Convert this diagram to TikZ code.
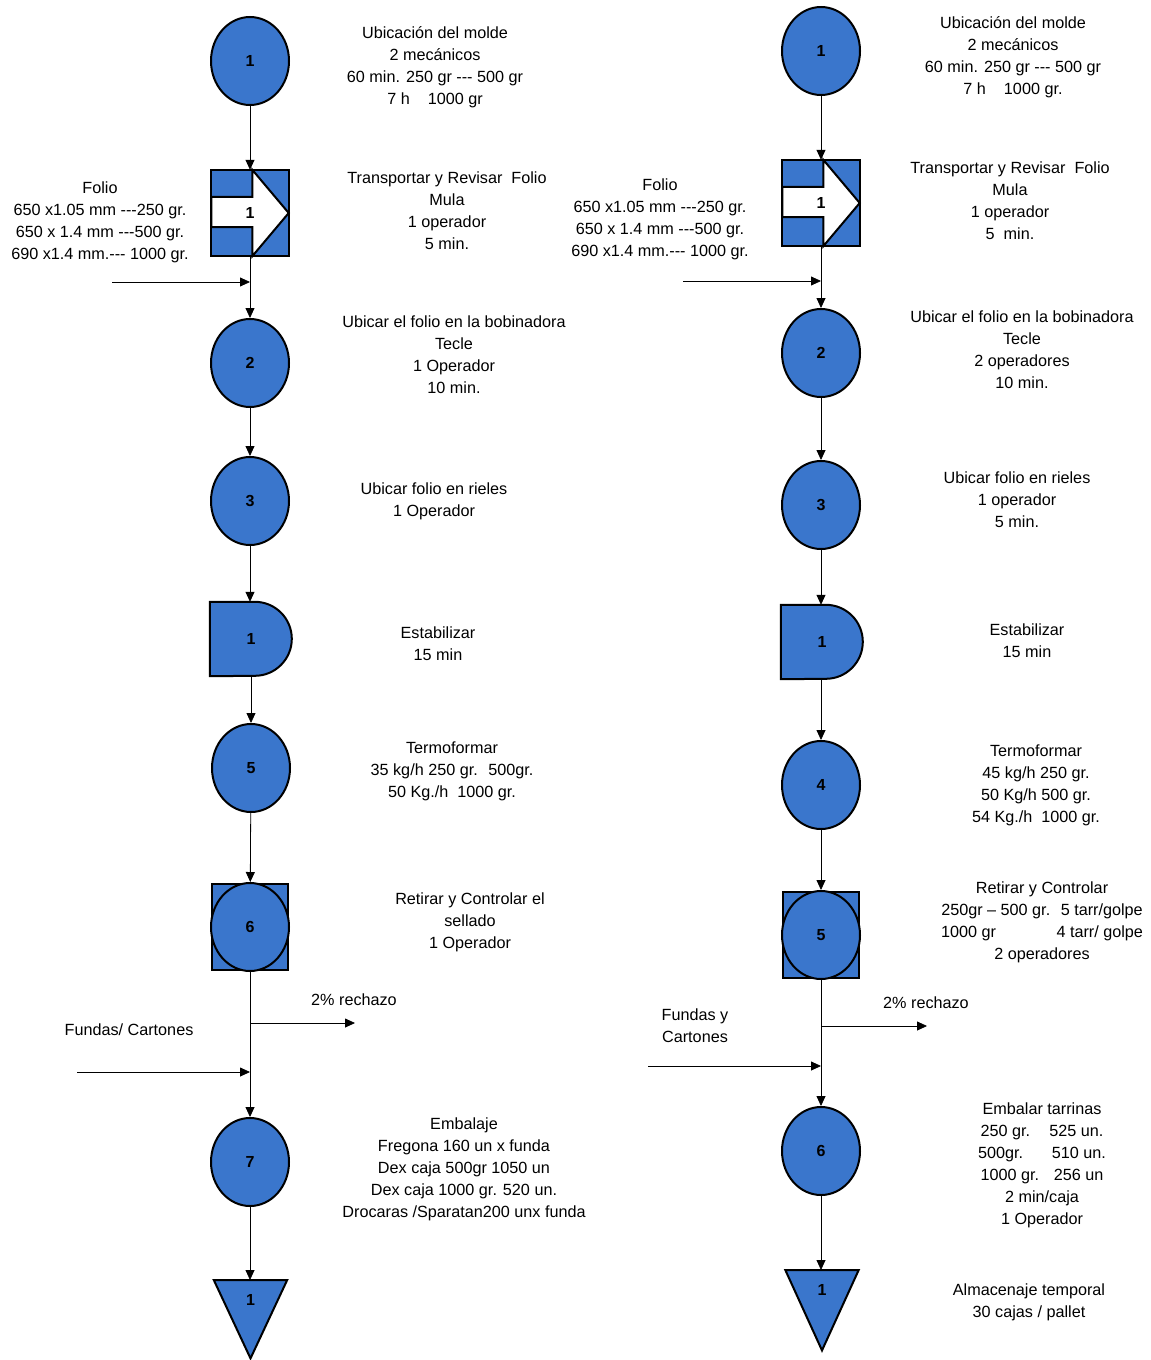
\documentclass[tikz,border=0pt]{standalone}
\usepackage{fontspec}
\setmainfont{Liberation Sans}[Ligatures=TeXOff]
\usetikzlibrary{arrows.meta,shapes.geometric,backgrounds}
\definecolor{opblue}{HTML}{3A76CC}

\begin{document}
\begin{tikzpicture}[x=1pt, y=1pt,
    font=\fontsize{16.2}{22}\selectfont,
    flow/.style={-{Triangle[length=10pt,width=9pt]}, line width=0.8pt},
    opline/.style={draw, line width=2pt},
    op/.style={opline, fill=opblue, ellipse, minimum width=78pt, minimum height=88pt, inner sep=0pt, font=\fontsize{16}{18}\selectfont\bfseries},
    symbox/.style={inner sep=0pt, minimum width=#1, font=\fontsize{16}{18}\selectfont\bfseries},
    note/.style={align=center}
]
    \useasboundingbox (0,0) rectangle (1151,-1360);

    % left column
    \node[op] (c1) at (250,-61) {1};
    \node[symbox=77pt, minimum height=86pt] (tr1) at (250,-213) {1};
    \node[op] (c2) at (250,-363) {2};
    \node[op] (c3) at (250,-501) {3};
    \node[symbox=82pt, minimum height=74pt] (dl1) at (251,-639) {1};
    \node[op] (c5) at (251,-768) {5};
    \node[opline, fill=opblue, minimum width=76pt, minimum height=86pt, inner sep=0pt] (sq6) at (250,-927) {};
    \node[op] (c6) at (250,-927) {6};
    \node[op] (c7) at (250,-1162) {7};
    \node[symbox=73pt, minimum height=78pt, anchor=north] (st1) at (250.5,-1280) {};
    \node[symbox=10pt] (st1n) at ([yshift=-20pt]st1.north) {1};

    % right column
    \node[op] (rc1) at (821,-51) {1};
    \node[symbox=77pt, minimum height=86pt] (rtr1) at (821,-203) {1};
    \node[op] (rc2) at (821,-353) {2};
    \node[op] (rc3) at (821,-505) {3};
    \node[symbox=82pt, minimum height=74pt] (rdl1) at (822,-642) {1};
    \node[op] (rc4) at (821,-785) {4};
    \node[opline, fill=opblue, minimum width=76pt, minimum height=86pt, inner sep=0pt] (rsq5) at (821,-935) {};
    \node[op] (rc5) at (821,-935) {5};
    \node[op] (rc6) at (821,-1151) {6};
    \node[symbox=73pt, minimum height=80pt, anchor=north] (rst1) at (822,-1270) {};
    \node[symbox=10pt] (rst1n) at ([yshift=-20pt]rst1.north) {1};

    % special symbols
    \begin{scope}[on background layer]
        \foreach \t in {tr1,rtr1} {
            \fill[opblue] (\t.south west) rectangle (\t.north east);
            \filldraw[fill=white, line width=2pt, line join=miter]
                ([yshift=-27pt]\t.north west) -- ([xshift=41pt,yshift=-27pt]\t.north west)
                -- ([xshift=41pt]\t.north west) -- (\t.east) -- ([xshift=41pt]\t.south west)
                -- ([xshift=41pt,yshift=29pt]\t.south west) -- ([yshift=29pt]\t.south west) -- cycle;
            \draw[line width=2pt] (\t.south west) rectangle (\t.north east);
        }
        \foreach \d in {dl1,rdl1} {
            \filldraw[fill=opblue, line width=2pt] (\d.north west) -- ([xshift=45pt]\d.north west)
                arc[start angle=90, end angle=-90, radius=37pt] -- (\d.south west) -- cycle;
        }
        \foreach \s in {st1,rst1} {
            \filldraw[fill=opblue, line width=2pt, line join=miter] (\s.north west) -- (\s.north east) -- (\s.south) -- cycle;
        }
    \end{scope}

    % left connectors
    \coordinate (in1) at (112,-282);
    \coordinate (j1) at (250,-282);
    \coordinate (in2) at (77,-1072);
    \coordinate (j2) at (250,-1072);
    \coordinate (rj1) at (250,-1023);
    \coordinate (rx1) at (355,-1023);
    \draw[flow] (c1) -- (tr1);
    \draw[flow] (tr1) -- (c2);
    \draw[flow] (in1) -- (j1);
    \draw[flow] (c2) -- (c3);
    \draw[flow] (c3) -- (dl1.north -| c3);
    \draw[flow] (dl1.south -| c5) -- (c5);
    \draw[flow] (c5) -- (c6);
    \draw[flow] (c6) -- (c7);
    \draw[flow] (rj1) -- (rx1);
    \draw[flow] (in2) -- (j2);
    \draw[flow] (c7) -- (st1.north -| c7);

    % right connectors
    \coordinate (rin1) at (683,-281);
    \coordinate (rj2) at (821,-281);
    \coordinate (rin2) at (648,-1066);
    \coordinate (rj3) at (821,-1066);
    \coordinate (rrj1) at (821,-1026);
    \coordinate (rrx1) at (927,-1026);
    \draw[flow] (rc1) -- (rtr1);
    \draw[flow] (rtr1) -- (rc2);
    \draw[flow] (rin1) -- (rj2);
    \draw[flow] (rc2) -- (rc3);
    \draw[flow] (rc3) -- (rdl1.north -| rc3);
    \draw[flow] (rdl1.south -| rc4) -- (rc4);
    \draw[flow] (rc4) -- (rc5);
    \draw[flow] (rc5) -- (rc6);
    \draw[flow] (rrj1) -- (rrx1);
    \draw[flow] (rin2) -- (rj3);
    \draw[flow] (rc6) -- (rst1.north -| rc6);

    % left notes
    \node[note] (t1) at (435,-67) {Ubicación del molde\\2 mecánicos\\60 min. 250 gr --- 500 gr\\7 h~~~ 1000 gr};
    \node[note] (ttr1) at (447,-211) {Transportar y Revisar~ Folio\\Mula\\1 operador\\5 min.};
    \node[note] (tfol) at (100,-222) {Folio\\650 x1.05 mm ---250 gr.\\650 x 1.4 mm ---500 gr.\\690 x1.4 mm.--- 1000 gr.};
    \node[note] (t2) at (454,-355) {Ubicar el folio en la bobinadora\\Tecle\\1 Operador\\10 min.};
    \node[note] (t3) at (434,-501) {Ubicar folio en rieles\\1 Operador};
    \node[note] (tdl1) at (438,-644) {Estabilizar\\15 min};
    \node[note] (t5) at (452,-771) {Termoformar\\35 kg/h 250 gr.~ 500gr.\\50 Kg./h~ 1000 gr.};
    \node[note] (t6) at (470,-922) {Retirar y Controlar el\\sellado\\1 Operador};
    \node[note] (trech) at (354,-1000) {2\% rechazo};
    \node[note] (tfun) at (129,-1030) {Fundas/ Cartones};
    \node[note] (t7) at (464,-1169) {Embalaje\\Fregona 160 un x funda\\Dex caja 500gr 1050 un\\Dex caja 1000 gr. 520 un.\\Drocaras /Sparatan200 unx funda};

    % right notes
    \node[note] (rt1) at (1013,-57) {Ubicación del molde\\2 mecánicos\\60 min. 250 gr --- 500 gr\\7 h~~~ 1000 gr.};
    \node[note] (rttr1) at (1010,-201) {Transportar y Revisar~ Folio\\Mula\\1 operador\\5~ min.};
    \node[note] (rtfol) at (660,-219) {Folio\\650 x1.05 mm ---250 gr.\\650 x 1.4 mm ---500 gr.\\690 x1.4 mm.--- 1000 gr.};
    \node[note] (rt2) at (1022,-350) {Ubicar el folio en la bobinadora\\Tecle\\2 operadores\\10 min.};
    \node[note] (rt3) at (1017,-500) {Ubicar folio en rieles\\1 operador\\5 min.};
    \node[note] (rtdl1) at (1027,-641) {Estabilizar\\15 min};
    \node[note] (rt4) at (1036,-785) {Termoformar\\45 kg/h 250 gr.\\50 Kg/h 500 gr.\\54 Kg./h~ 1000 gr.};
    \node[note] (rt5) at (1042,-922) {Retirar y Controlar\\250gr – 500 gr.~ 5 tarr/golpe\\\makebox[202pt]{1000 gr\hfill 4 tarr/ golpe}\\2 operadores};
    \node[note] (rtrech) at (926,-1003) {2\% rechazo};
    \node[note] (rtfun) at (695,-1026) {Fundas y\\Cartones};
    \node[note] (rt6) at (1042,-1165) {Embalar tarrinas\\\makebox[123pt]{250 gr.\hfill 525 un.}\\\makebox[128pt]{500gr.\hfill 510 un.}\\\makebox[123pt]{1000 gr.\hfill 256 un}\\2 min/caja\\1 Operador};
    \node[note] (rtst1) at (1029,-1302) {Almacenaje temporal\\30 cajas / pallet};
\end{tikzpicture}
\end{document}
